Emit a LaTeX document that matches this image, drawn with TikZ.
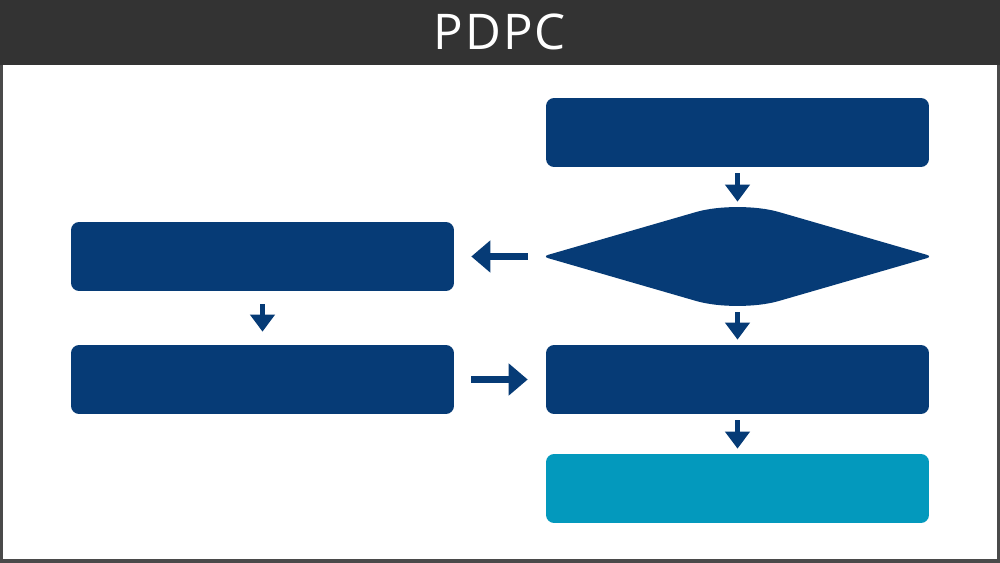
\documentclass[tikz,border=0pt]{standalone}
\usepackage{fontspec}
\setsansfont{Open Sans}
\usetikzlibrary{arrows.meta,shapes.geometric}

\begin{document}
\begin{tikzpicture}[x=0.02cm, y=-0.02cm,
  stepbox/.style={fill=pdpcblue, rounded corners=0.16cm, minimum width=7.66cm, minimum height=1.38cm, inner sep=0pt},
  endbox/.style={stepbox, fill=pdpcteal},
  decision/.style={diamond, aspect=3.45, minimum width=7.8cm, minimum height=2.26cm, inner sep=0pt},
  downarrow/.style={draw=pdpcblue, line width=0.1cm, -{Triangle[length=0.34cm, width=0.48cm]}, shorten <=0.12cm, shorten >=0.1cm},
  sidearrow/.style={draw=pdpcblue, line width=0.14cm, -{Triangle[length=0.38cm, width=0.62cm]}}
]
  % Define colors
  \definecolor{pdpcblue}{HTML}{063B76}
  \definecolor{pdpcteal}{HTML}{0399BD}
  \definecolor{titlegray}{HTML}{333333}
  \definecolor{framegray}{HTML}{4A4A4A}

  % Frame and title bar
  \useasboundingbox (0,0) rectangle (1000,563);
  \fill[framegray] (0,0) rectangle (1000,563);
  \fill[white] (3,65) rectangle (997,559);
  \fill[titlegray] (0,0) rectangle (1000,65);
  \node[text=white, font=\sffamily\fontsize{28}{30}\selectfont\addfontfeatures{LetterSpace=4}] (title) at (500,32) {PDPC};

  % Right column
  \node[stepbox] (start) at (737.5,132.5) {};
  \node[decision] (check) at (737.5,256.5) {};
  % Diamond: broad round top and bottom, sharp side tips
  \fill[pdpcblue] (696.2,212) .. controls (719,205.4) and (756,205.4) .. (778.8,212)
    -- (926.7,254.8) .. controls (929.9,255.75) and (929.9,257.25) .. (926.7,258.2)
    -- (778.8,301) .. controls (756,307.6) and (719,307.6) .. (696.2,301)
    -- (548.3,258.2) .. controls (545.1,257.25) and (545.1,255.75) .. (548.3,254.8) -- cycle;
  \node[stepbox] (act) at (737.5,379.5) {};
  \node[endbox] (goal) at (737.5,488.5) {};

  % Left column
  \node[stepbox] (alt) at (262.5,256.5) {};
  \node[stepbox] (altnext) at (262.5,379.5) {};

  % Arrows
  \draw[downarrow, shorten >=-0.04cm] (start.south) -- (check.north);
  \draw[downarrow, shorten <=-0.02cm] (check.south) -- (act.north);
  \draw[downarrow] (act.south) -- (goal.north);
  \draw[downarrow, shorten <=0.26cm, shorten >=0.26cm] (alt.south) -- (altnext.north);
  \draw[sidearrow, shorten <=0.29cm, shorten >=0.34cm] (check.west) -- (alt.east);
  \draw[sidearrow, shorten <=0.34cm, shorten >=0.36cm] (altnext.east) -- (act.west);
\end{tikzpicture}
\end{document}
